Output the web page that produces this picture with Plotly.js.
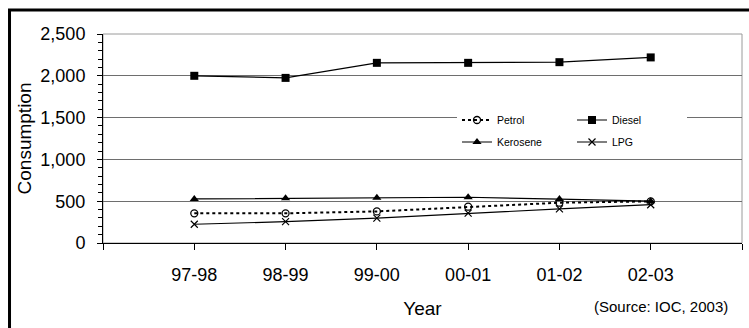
<!DOCTYPE html>
<html>
<head>
<meta charset="utf-8">
<script src="https://cdn.plot.ly/plotly-3.0.1.min.js"></script>
<style>html,body{margin:0;padding:0;background:#fff;}#chart{width:749px;height:328px;}</style>
</head>
<body>
<div id="chart"></div>
<script>
const years = ['97-98', '98-99', '99-00', '00-01', '01-02', '02-03'];
const petrol = [355, 355, 378, 434, 482, 498];
const diesel = [2000, 1975, 2155, 2155, 2163, 2220];
const kerosene = [527, 535, 540, 547, 525, 500];
const lpg = [224, 255, 298, 357, 408, 458];

const idx = years.map((_, i) => i);
const tickVals = [-1].concat(idx, [years.length]);
const tickText = [''].concat(years, ['']);

const FONT = 'Liberation Sans, Arial, sans-serif';

const traces = [
  {name: 'Petrol', x: idx, y: petrol, mode: 'lines+markers', legend: 'legend',
   line: {color: '#000', width: 2, dash: 'dot'},
   marker: {symbol: 'circle-open', size: 7, color: '#000', line: {width: 1.3, color: '#000'}}},
  {name: 'Diesel', x: idx, y: diesel, mode: 'lines+markers', legend: 'legend',
   line: {color: '#000', width: 1.2},
   marker: {symbol: 'square', size: 8, color: '#000'}},
  {name: 'Kerosene', x: idx, y: kerosene, mode: 'lines+markers', legend: 'legend2',
   line: {color: '#000', width: 1.2},
   marker: {symbol: 'triangle-up', size: 8, color: '#000'}},
  {name: 'LPG', x: idx, y: lpg, mode: 'lines+markers', legend: 'legend2',
   line: {color: '#000', width: 1.2},
   marker: {symbol: 'x-thin-open', size: 7, color: '#000', line: {width: 1.2, color: '#000'}}}
];

const legendBase = {
  orientation: 'h', x: 0.554, xanchor: 'left', yanchor: 'middle',
  bgcolor: '#fff', borderwidth: 0, entrywidth: 70, entrywidthmode: 'pixels',
  font: {family: FONT, size: 10.5, color: '#000'}, traceorder: 'normal'
};

const layout = {
  width: 749, height: 328,
  margin: {l: 103, r: 7, t: 34, b: 85},
  paper_bgcolor: '#fff', plot_bgcolor: '#fff',
  font: {family: FONT, color: '#000'},
  showlegend: true,
  legend: Object.assign({}, legendBase, {y: 0.5885}),
  legend2: Object.assign({}, legendBase, {y: 0.4833}),
  xaxis: {
    range: [-1, years.length], tickmode: 'array', tickvals: tickVals, ticktext: tickText,
    showgrid: false, zeroline: false, showline: true, linecolor: '#000', linewidth: 1,
    ticks: 'outside', ticklen: 6, tickcolor: '#000', ticklabelstandoff: 9,
    tickfont: {family: FONT, size: 18, color: '#000'},
    title: {text: 'Year', font: {family: FONT, size: 19, color: '#000'}, standoff: 18},
    automargin: false, fixedrange: true
  },
  yaxis: {
    range: [0, 2500], tickmode: 'linear', tick0: 0, dtick: 500, tickformat: ',d',
    showgrid: true, gridcolor: '#6e6e6e', gridwidth: 1, zeroline: false,
    showline: true, linecolor: '#000', linewidth: 1,
    ticks: 'outside', ticklen: 5, tickcolor: '#000', ticklabelstandoff: 8,
    minor: {dtick: 100, ticks: 'outside', ticklen: 4, tickcolor: '#000', showgrid: false},
    tickfont: {family: FONT, size: 18, color: '#000'},
    title: {text: 'Consumption', font: {family: FONT, size: 19, color: '#000'}, standoff: 3},
    automargin: false, fixedrange: true
  },
  shapes: [
    {type: 'rect', xref: 'paper', yref: 'paper', x0: 0, x1: 1, y0: 0, y1: 1,
     line: {color: '#9a9a9a', width: 1}, layer: 'below'},
    {type: 'rect', xref: 'paper', yref: 'paper', x0: -0.1463, x1: 1.2, y0: -0.6, y1: 1.1148,
     line: {color: '#000', width: 3}, layer: 'above'}
  ],
  annotations: [
    {text: '(Source: IOC, 2003)', xref: 'paper', yref: 'paper', x: 0.981, y: -0.302,
     xanchor: 'right', yanchor: 'middle', showarrow: false,
     font: {family: FONT, size: 15, color: '#000'}}
  ]
};

Plotly.newPlot('chart', traces, layout, {displayModeBar: false, staticPlot: true});
</script>
</body>
</html>
